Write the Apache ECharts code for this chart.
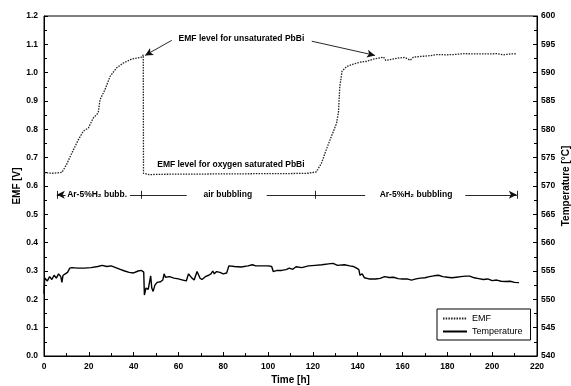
<!DOCTYPE html>
<html>
<head>
<meta charset="utf-8">
<script src="https://cdn.jsdelivr.net/npm/echarts@6/dist/echarts.min.js"></script>
<style>
  html, body { margin: 0; padding: 0; background: #fff; }
  #chart { width: 571px; height: 386px; }
</style>
</head>
<body>
<div id="chart"></div>
<script>
// EMF readings [h] / [V]
var emfTime = [0, 4, 8, 10, 12.4, 15.3, 17.5, 19.8, 22, 24.2, 25, 27.2, 29.5, 32.4, 35.4, 39.1, 43.6, 44.3, 44.4,
  45, 47, 50, 60, 70, 80, 90, 100, 110, 118, 121.5, 123.8, 125.4, 127, 129, 130.5, 131.4, 132, 133, 135.1,
  138, 141, 144, 147, 150, 151.5, 152.5, 154.5, 155, 158.6, 161, 163.4, 164.9, 169.3, 172.3, 175.3, 179.8,
  183, 187.2, 194.6, 198, 202, 205, 208, 211];
var emfValue = [0.647, 0.645, 0.648, 0.675, 0.716, 0.763, 0.793, 0.805, 0.84, 0.858, 0.905, 0.94, 0.987, 1.017,
  1.034, 1.048, 1.055, 1.063, 0.645,
  0.642, 0.64, 0.641, 0.642, 0.642, 0.643, 0.643, 0.644, 0.644, 0.645, 0.65, 0.68, 0.716, 0.75, 0.79, 0.82,
  0.86, 0.95, 1.005, 1.022,
  1.03, 1.037, 1.04, 1.048, 1.052, 1.055, 1.043, 1.046, 1.052, 1.052, 1.054, 1.044, 1.055, 1.058, 1.06, 1.064,
  1.063, 1.064, 1.067, 1.066, 1.066, 1.067, 1.063, 1.066, 1.067];

// Temperature readings [h] / [°C]
var tempTime = [0, 0.3, 1.5, 2.5, 3.5, 4.5, 5.5, 6.5, 7.5, 8, 8.5, 9.5, 10.5, 11.5, 12.5, 15, 18, 21, 24, 26, 28,
  30, 32, 34, 36, 38, 40, 42, 43.5, 44.5, 44.8, 45.5, 46.5, 47.2, 47.6, 48.1, 48.7, 49.5, 50.5, 52, 53, 53.6,
  54.2, 56, 58, 60, 62, 63.5, 64.5, 65.3, 66, 67, 68.3, 69, 69.6, 70.5, 72, 73.5, 74.5, 75.3, 76, 77, 78.5, 80,
  81.5, 82.5, 85, 88, 91, 93, 93.5, 94.5, 97, 100, 101.6, 102.3, 104, 106, 108, 109.5, 111, 112.5, 115, 118,
  121, 124, 127, 129, 131, 134, 136.5, 138, 139.5, 140.5, 141, 142, 143, 145, 148, 150, 152, 154, 156, 158,
  160, 162, 164, 166, 168, 170, 172, 174, 176, 178, 180, 182, 184, 186, 188, 190, 192, 194, 196, 198, 200,
  202, 204, 206, 208, 210, 212];
var tempValue = [551.0, 553.75, 553.25, 554.0, 553.5, 554.25, 553.75, 554.5, 554.0, 553.0, 554.25, 554.5, 554.75,
  555.5, 555.6, 555.5, 555.5, 555.6, 555.8, 556.0, 555.8, 555.9, 555.6, 555.3, 555.0, 554.75, 554.65, 555.0,
  555.1, 554.8, 550.75, 552.0, 551.75, 551.9, 554.15, 552.0, 551.4, 552.5, 553.0, 553.1, 553.4, 554.5, 553.9,
  554.0, 553.75, 553.6, 553.4, 553.25, 554.5, 554.75, 553.75, 553.4, 554.9, 555.15, 553.75, 553.5, 554.0,
  554.25, 554.5, 555.0, 554.5, 554.9, 554.75, 554.5, 554.65, 555.9, 555.8, 555.7, 555.9, 556.1, 556.4, 555.9,
  555.9, 555.9, 555.8, 554.9, 555.1, 555.1, 555.25, 555.5, 555.3, 555.75, 555.6, 555.9, 556.0, 556.1, 556.25,
  556.35, 556.0, 556.1, 555.9, 555.8, 555.5, 555.25, 554.25, 554.5, 553.8, 553.6, 553.6, 553.7, 554.0, 553.85,
  553.9, 553.65, 553.6, 553.6, 553.4, 553.6, 553.75, 553.8, 554.0, 554.15, 554.25, 554.0, 553.9, 553.8, 553.9,
  554.0, 554.1, 554.1, 553.8, 553.65, 553.5, 553.6, 553.3, 553.4, 553.2, 553.15, 553.2, 553.0, 552.95];

// bubbling phases: boundaries [h] and bar level [V]
var phaseBounds = [5.7, 43.5, 121, 211];
var phaseLabels = ['Ar-5%H\u2082 bubb.', 'air bubbling', 'Ar-5%H\u2082 bubbling'];
var phaseLevel = 0.569;

var font = 'Liberation Sans, Arial, sans-serif';

var chart = echarts.init(document.getElementById('chart'));

function pairs(xs, ys) {
  return xs.map(function (x, i) { return [x, ys[i]]; });
}

function seg(x1, y1, x2, y2, sym) {
  return [{ coord: [x1, y1], symbol: sym ? sym[0] : 'none' }, { coord: [x2, y2], symbol: sym ? sym[1] : 'none' }];
}

var b = phaseBounds, L = phaseLevel, h = 0.014;
var markLines = [
  // phase bar pieces (gaps leave room for the labels)
  seg(5.7, L, 9.6, L, ['arrow', 'none']),
  seg(38.4, L, 63.7, L),
  seg(99.4, L, 143.3, L),
  seg(188, L, 211, L, ['none', 'arrow']),
  seg(b[0], L - h, b[0], L + h),
  seg(b[1], L - h, b[1], L + h),
  seg(b[2], L - h, b[2], L + h),
  seg(b[3], L - h, b[3], L + h),
  // annotation arrows
  seg(57.0, 1.114, 45.1, 1.061, ['none', 'arrow']),
  seg(119.5, 1.111, 147.7, 1.061, ['none', 'arrow'])
];

var notes = [
  { name: 'EMF level for unsaturated PbBi', coord: [88.1, 1.12] },
  { name: 'EMF level for oxygen saturated PbBi', coord: [83.4, 0.674] },
  { name: phaseLabels[0], coord: [23.7, L] },
  { name: phaseLabels[1], coord: [82, L] },
  { name: phaseLabels[2], coord: [166, L] }
];

var tickLabel = { color: '#000', fontFamily: font, fontWeight: 'bold', fontSize: 8.5 };
var nameStyle = { color: '#000', fontFamily: font, fontWeight: 'bold', fontSize: 10 };

var option = {
  animation: false,
  grid: {
    left: 44, right: 34, top: 16, bottom: 30,
    outerBoundsMode: 'none', containLabel: false,
    show: true, borderColor: '#000', borderWidth: 1
  },
  legend: {
    data: ['EMF', 'Temperature'],
    orient: 'vertical',
    left: 437, top: 309,
    borderColor: '#000', borderWidth: 1,
    padding: [5, 8, 4, 5],
    itemGap: 4, itemWidth: 24, itemHeight: 8,
    itemStyle: { opacity: 0 },
    textStyle: { color: '#000', fontFamily: font, fontSize: 9 }
  },
  xAxis: {
    type: 'value', min: 0, max: 220, interval: 20,
    name: 'Time [h]', nameLocation: 'middle', nameGap: 19, nameMoveOverlap: false, nameTextStyle: nameStyle,
    axisLine: { lineStyle: { color: '#000' } },
    axisTick: { inside: true, length: 4, lineStyle: { color: '#000' } },
    minorTick: { show: true, splitNumber: 2, length: 3, lineStyle: { color: '#000' } },
    axisLabel: Object.assign({ margin: 6 }, tickLabel),
    splitLine: { show: false }
  },
  yAxis: [{
    type: 'value', min: 0, max: 1.2, interval: 0.1,
    name: 'EMF [V]', nameLocation: 'middle', nameGap: 22, nameRotate: 90, nameMoveOverlap: false,
    nameTextStyle: nameStyle,
    axisLine: { show: true, lineStyle: { color: '#000' } },
    axisTick: { inside: true, length: 4, lineStyle: { color: '#000' } },
    minorTick: { show: true, splitNumber: 2, length: 3, lineStyle: { color: '#000' } },
    axisLabel: Object.assign({ margin: 6, formatter: function (v) { return v.toFixed(1); } }, tickLabel),
    splitLine: { show: false }
  }, {
    type: 'value', min: 540, max: 600, interval: 5, position: 'right',
    name: 'Temperature [°C]', nameLocation: 'middle', nameGap: 24, nameRotate: 90, nameMoveOverlap: false,
    nameTextStyle: nameStyle,
    axisLine: { show: true, lineStyle: { color: '#000' } },
    axisTick: { inside: true, length: 4, lineStyle: { color: '#000' } },
    minorTick: { show: true, splitNumber: 2, length: 3, lineStyle: { color: '#000' } },
    axisLabel: Object.assign({ margin: 4 }, tickLabel),
    splitLine: { show: false }
  }],
  series: [{
    name: 'EMF', type: 'line', yAxisIndex: 0, symbol: 'none',
    data: pairs(emfTime, emfValue),
    lineStyle: { color: '#222', width: 1.3, type: [1.5, 1.2] },
    itemStyle: { color: '#222' }
  }, {
    name: 'Temperature', type: 'line', yAxisIndex: 1, symbol: 'none',
    data: pairs(tempTime, tempValue),
    lineStyle: { color: '#000', width: 1.4 },
    itemStyle: { color: '#000' }
  }, {
    name: 'notes', type: 'line', yAxisIndex: 0, data: [],
    markLine: {
      silent: true, symbolSize: [6, 8], precision: 3,
      lineStyle: { color: '#111', width: 0.9, type: 'solid' },
      label: { show: false },
      data: markLines
    },
    markPoint: {
      silent: true, symbol: 'rect', symbolSize: 0,
      label: {
        show: true, position: 'inside', formatter: '{b}',
        color: '#000', fontFamily: font, fontWeight: 'bold', fontSize: 8.5
      },
      data: notes
    }
  }]
};

chart.setOption(option);
</script>
</body>
</html>
